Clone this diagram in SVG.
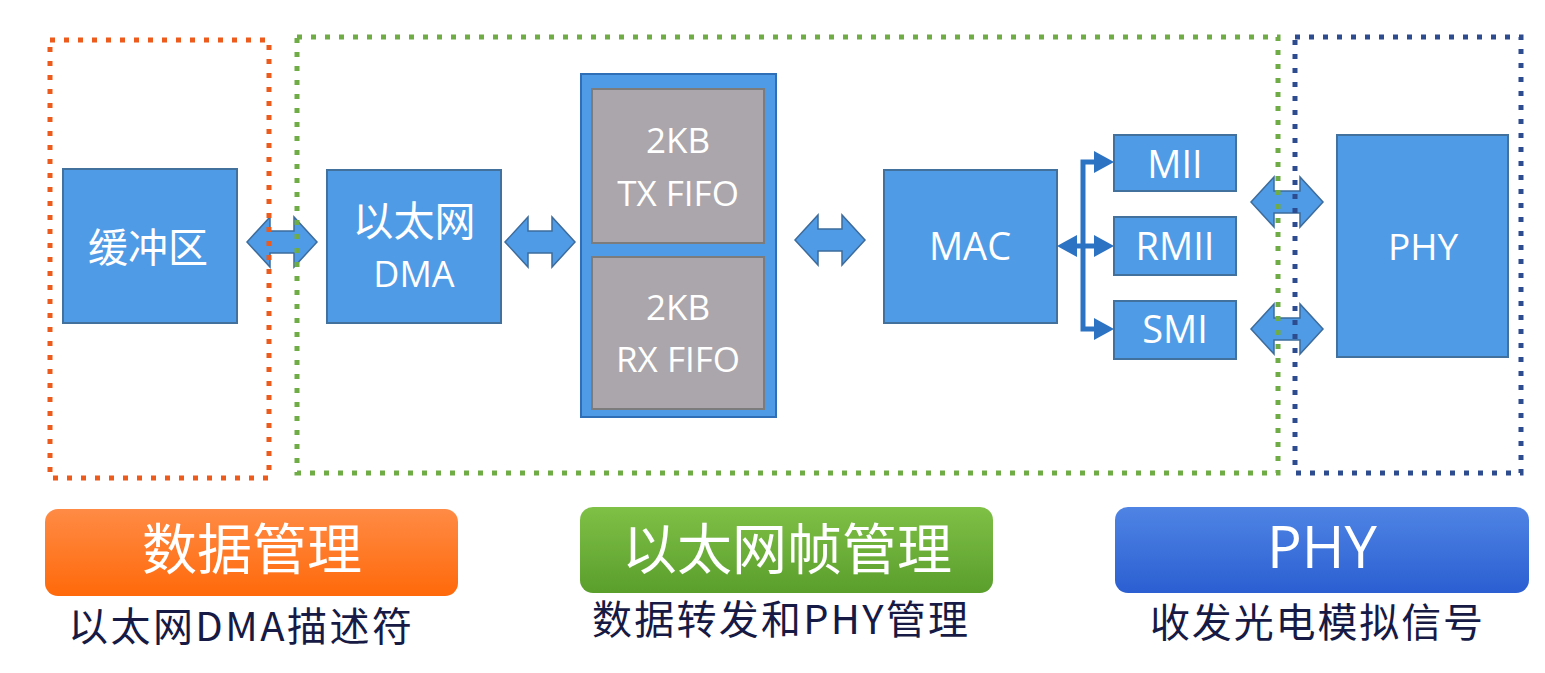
<svg xmlns="http://www.w3.org/2000/svg" width="1545" height="673" viewBox="0 0 1545 673">
<style>
.box{fill:#4f9be6;stroke:#41719c;stroke-width:2}
.gray{fill:#aaa6ab;stroke:#7c7c7c;stroke-width:2}
.barrow{fill:#4f9be6;stroke:#3d6c9c;stroke-width:1.5;stroke-linejoin:miter}
.bus{fill:none;stroke:#2c73c4;stroke-width:5}
.dot{fill:none;stroke-width:5;stroke-dasharray:5 9}
.lat{font-family:"Open Sans","Liberation Sans",sans-serif;fill:#fff;text-anchor:middle}
.cjk{font-family:"Noto Sans CJK SC","Noto Sans",sans-serif;fill:#fff;text-anchor:middle}
.cap{font-family:"Noto Sans CJK SC","Noto Sans",sans-serif;fill:#161a44;font-size:40px}
</style>
<defs>
<marker id="ah" viewBox="0 0 20 22" refX="6" refY="11" markerWidth="20" markerHeight="22" markerUnits="userSpaceOnUse" orient="auto-start-reverse">
<path d="M0,0 L20,11 L0,22 Z" fill="#2c73c4"/>
</marker>
<linearGradient id="gOr" x1="0" y1="0" x2="0" y2="1"><stop offset="0" stop-color="#ff8b45"/><stop offset="1" stop-color="#ff690a"/></linearGradient>
<linearGradient id="gGr" x1="0" y1="0" x2="0" y2="1"><stop offset="0" stop-color="#7fc046"/><stop offset="1" stop-color="#5a9e2c"/></linearGradient>
<linearGradient id="gBl" x1="0" y1="0" x2="0" y2="1"><stop offset="0" stop-color="#4f84e4"/><stop offset="1" stop-color="#2b5fd2"/></linearGradient>
</defs>
<rect width="1545" height="673" fill="#fff"/>

<g id="buffer"><rect class="box" x="63" y="169" width="174" height="154"/><text class="cjk" x="148" y="262" font-size="40">缓冲区</text></g>
<g id="dma"><rect class="box" x="327" y="170" width="174" height="153"/><text class="cjk" x="414" y="236" font-size="41">以太网</text><text class="lat" x="414" y="287" font-size="36">DMA</text></g>
<g id="fifo"><rect x="581" y="74" width="195" height="343" fill="#4f9be6" stroke="#2f6fb8" stroke-width="2"/>
<rect class="gray" x="592" y="89" width="172" height="154"/><text class="lat" x="678" y="153" font-size="35">2KB</text><text class="lat" x="678" y="206" font-size="35">TX FIFO</text>
<rect class="gray" x="592" y="257" width="172" height="152"/><text class="lat" x="678" y="320" font-size="35">2KB</text><text class="lat" x="678" y="372" font-size="35">RX FIFO</text></g>
<g id="mac"><rect class="box" x="884" y="170" width="173" height="153"/><text class="lat" x="970" y="260" font-size="38">MAC</text></g>
<g id="mii"><rect class="box" x="1114" y="135" width="122" height="56"/><text class="lat" x="1175" y="178" font-size="38">MII</text></g>
<g id="rmii"><rect class="box" x="1114" y="217" width="122" height="58"/><text class="lat" x="1175" y="260" font-size="38">RMII</text></g>
<g id="smi"><rect class="box" x="1114" y="301" width="122" height="58"/><text class="lat" x="1175" y="343" font-size="38">SMI</text></g>
<g id="phy"><rect class="box" x="1337" y="135" width="171" height="222"/><text class="lat" x="1423" y="260" font-size="37">PHY</text></g>

<g id="connectors">
<path class="barrow" d="M247,242 L270,217 L270,231 L294,231 L294,217 L317,242 L294,267 L294,253 L270,253 L270,267 Z"/>
<path class="barrow" d="M505,242 L528,217 L528,231 L552,231 L552,217 L575,242 L552,267 L552,253 L528,253 L528,267 Z"/>
<path class="barrow" d="M795,240 L818,215 L818,229 L842,229 L842,215 L865,240 L842,265 L842,251 L818,251 L818,265 Z"/>
<path class="barrow" d="M1251,202 L1274,177 L1274,191 L1300,191 L1300,177 L1323,202 L1300,227 L1300,213 L1274,213 L1274,227 Z"/>
<path class="barrow" d="M1251,329 L1274,304 L1274,318 L1300,318 L1300,304 L1323,329 L1300,354 L1300,340 L1274,340 L1274,354 Z"/>
<path class="bus" d="M1100,162 H1083 V329 H1100" marker-start="url(#ah)" marker-end="url(#ah)"/>
<path class="bus" d="M1071,246 H1100" marker-start="url(#ah)" marker-end="url(#ah)"/>
</g>

<g id="regions">
<rect class="dot" x="50" y="40" width="219" height="438" stroke="#ec5a1c"/>
<rect class="dot" x="297" y="37" width="981" height="436" stroke="#6fac46"/>
<rect class="dot" x="1295" y="37" width="226" height="436" stroke="#2d4b8f"/>
</g>

<g id="label-data">
<rect x="45" y="509" width="413" height="87" rx="13" fill="url(#gOr)"/>
<text class="cjk" x="252" y="569" font-size="55">数据管理</text>
<text class="cap" x="68" y="641" textLength="344" lengthAdjust="spacing">以太网DMA描述符</text>
</g>
<g id="label-frame">
<rect x="580" y="507" width="413" height="86" rx="13" fill="url(#gGr)"/>
<text class="cjk" x="787" y="569" font-size="55">以太网帧管理</text>
<text class="cap" x="592" y="634" textLength="376" lengthAdjust="spacing">数据转发和PHY管理</text>
</g>
<g id="label-phy">
<rect x="1115" y="507" width="414" height="86" rx="13" fill="url(#gBl)"/>
<text class="lat" x="1322" y="568" font-size="58">PHY</text>
<text class="cap" x="1150" y="637" textLength="333" lengthAdjust="spacing">收发光电模拟信号</text>
</g>
</svg>
